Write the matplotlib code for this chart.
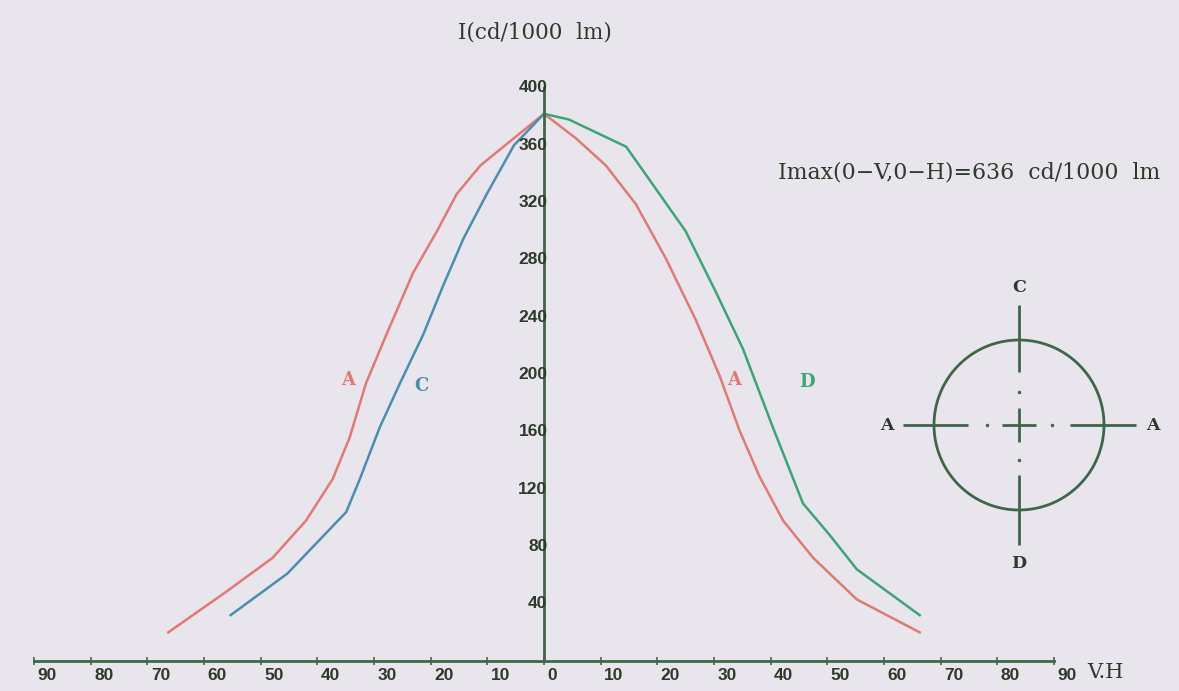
import matplotlib
matplotlib.use("Agg")
import matplotlib.pyplot as plt
import matplotlib.transforms as mtransforms
import numpy as np

# ── Data ──────────────────────────────────────────────────────────────────────
# left half: angle in degrees from the axis (plotted to the left of 0)
a_left_deg = [0, 5.3, 11.2, 15.4, 18.9, 23.1, 27.8, 31.4, 34.3, 37.3, 42.0, 47.9, 56.2, 66.3]
a_left_val = [382, 365, 346, 326, 300, 271, 228, 194, 156, 127, 98, 72, 48, 20]

c_left_deg = [0, 5.3, 10.1, 14.2, 17.8, 21.3, 25.4, 29.0, 32.5, 34.9, 45.3, 55.3]
c_left_val = [382, 360, 326, 295, 262, 228, 194, 163, 127, 104, 61, 32]

# right half
a_right_deg = [0, 5.6, 10.9, 16.2, 21.5, 26.8, 31.0, 34.5, 38.0, 42.2, 47.5, 55.2, 66.3]
a_right_val = [382, 365, 346, 319, 281, 238, 199, 161, 129, 98, 72, 43, 20]

d_right_deg = [0, 4.4, 14.5, 18.6, 25.0, 30.4, 35.1, 40.4, 45.7, 50.4, 55.2, 66.3]
d_right_val = [382, 378, 359, 336, 300, 257, 218, 163, 110, 88, 64, 32]

x_ticks = list(range(-90, 100, 10))
y_ticks = list(range(40, 440, 40))

# ── Style ─────────────────────────────────────────────────────────────────────
BG = '#e8e5ec'
AXIS = '#3f6648'
TXT = '#2e3a2a'
RED = '#e07a76'
BLUE = '#4d8db0'
GREEN = '#3fa475'

W, H = 1179, 691
fig = plt.figure(figsize=(W / 100, H / 100), dpi=100, facecolor=BG)

# main axes: x from -90 (px 34) to 90 (px 1054), y 0 (px 661) to 400 (px 88)
ax = fig.add_axes([34 / W, (H - 661) / H, 1020 / W, 573 / H])
ax.set_facecolor(BG)
ax.set_xlim(-90, 90)
ax.set_ylim(0, 400)
for s in ['left', 'right', 'top']:
    ax.spines[s].set_visible(False)
ax.spines['bottom'].set_color(AXIS)
ax.spines['bottom'].set_linewidth(2)
ax.set_yticks([])
ax.set_xticks(x_ticks)
ax.set_xticklabels([])
ax.tick_params(axis='x', direction='inout', length=6, width=1.2, color=AXIS)

# vertical axis at 0
ax.plot([0, 0], [0, 400], color=AXIS, lw=2, zorder=3, clip_on=False)

# ── Curves ──
ax.plot([-d for d in a_left_deg], a_left_val, color=RED, lw=1.8, zorder=2)
ax.plot([-d for d in c_left_deg], c_left_val, color=BLUE, lw=1.8, zorder=2)
ax.plot(a_right_deg, a_right_val, color=RED, lw=1.8, zorder=2)
ax.plot(d_right_deg, d_right_val, color=GREEN, lw=1.8, zorder=2)

serif = ['DejaVu Serif']
num_font = dict(family=['Liberation Sans'], fontweight='bold', fontsize=12.5, color=TXT)

# x tick labels (absolute degrees), placed just right of each tick
xlab_tr = mtransforms.offset_copy(ax.transData, fig=fig, x=2.5, y=-5, units='points')
for t in x_ticks:
    ax.text(t, 0, str(abs(t)), transform=xlab_tr, ha='left', va='top',
            clip_on=False, **num_font)

# y tick labels, ending on the vertical axis
ylab_tr = mtransforms.offset_copy(ax.transData, fig=fig, x=2.5, y=0, units='points')
for v in y_ticks:
    ax.text(0, v, str(v), transform=ylab_tr, ha='right', va='center',
            clip_on=False, **num_font)

# curve labels
lab = dict(fontsize=13, fontweight='bold', family=serif, ha='center', va='center')
ax.text(-34.5, 196, 'A', color=RED, **lab)
ax.text(-21.6, 192, 'C', color=BLUE, **lab)
ax.text(33.6, 196, 'A', color=RED, **lab)
ax.text(46.5, 195, 'D', color=GREEN, **lab)

# axis titles and note
fig.text(535 / W, 1 - 33 / H, 'I(cd/1000  lm)', family=serif, fontsize=15.5,
         color=TXT, ha='center', va='center')
fig.text(1105 / W, 1 - 673 / H, 'V.H', family=serif, fontsize=15,
         color=TXT, ha='center', va='center')
fig.text(1160 / W, 1 - 172 / H, 'Imax(0\u2212V,0\u2212H)=636  cd/1000  lm',
         family=serif, fontsize=15.8, color=TXT, ha='right', va='center')

# ── Luminaire orientation diagram ──
# center at px (1019, 425), radius 85 px; inset axes in units of the radius
r_px = 85.0
cx, cy = 1019, 425
half = 1.9
ins = fig.add_axes([(cx - half * r_px) / W, (H - cy - half * r_px) / H,
                    2 * half * r_px / W, 2 * half * r_px / H])
ins.set_xlim(-half, half)
ins.set_ylim(-half, half)
ins.axis('off')
ins.patch.set_alpha(0)

th = np.linspace(0, 2 * np.pi, 300)
ins.plot(np.cos(th), np.sin(th), color=AXIS, lw=2)
seg_kw = dict(color=AXIS, lw=2, solid_capstyle='butt')
ins.plot([-1.37, -0.6], [0, 0], **seg_kw)
ins.plot([0.6, 1.38], [0, 0], **seg_kw)
ins.plot([0, 0], [1.41, 0.62], **seg_kw)
ins.plot([0, 0], [-0.59, -1.41], **seg_kw)
ins.plot([-0.2, 0.2], [0, 0], **seg_kw)
ins.plot([0, 0], [-0.2, 0.2], **seg_kw)
ins.plot([-0.38, 0.39, 0, 0], [0, 0, 0.39, -0.41], 'o', color=AXIS, ms=1.5)

lab_kw = dict(family=serif, fontsize=12.5, fontweight='bold', color=TXT,
              ha='center', va='center')
ins.text(0, 1.62, 'C', **lab_kw)
ins.text(0, -1.63, 'D', **lab_kw)
ins.text(-1.55, 0, 'A', **lab_kw)
ins.text(1.57, 0, 'A', **lab_kw)

fig.savefig('out.png', dpi=100, facecolor=BG)
